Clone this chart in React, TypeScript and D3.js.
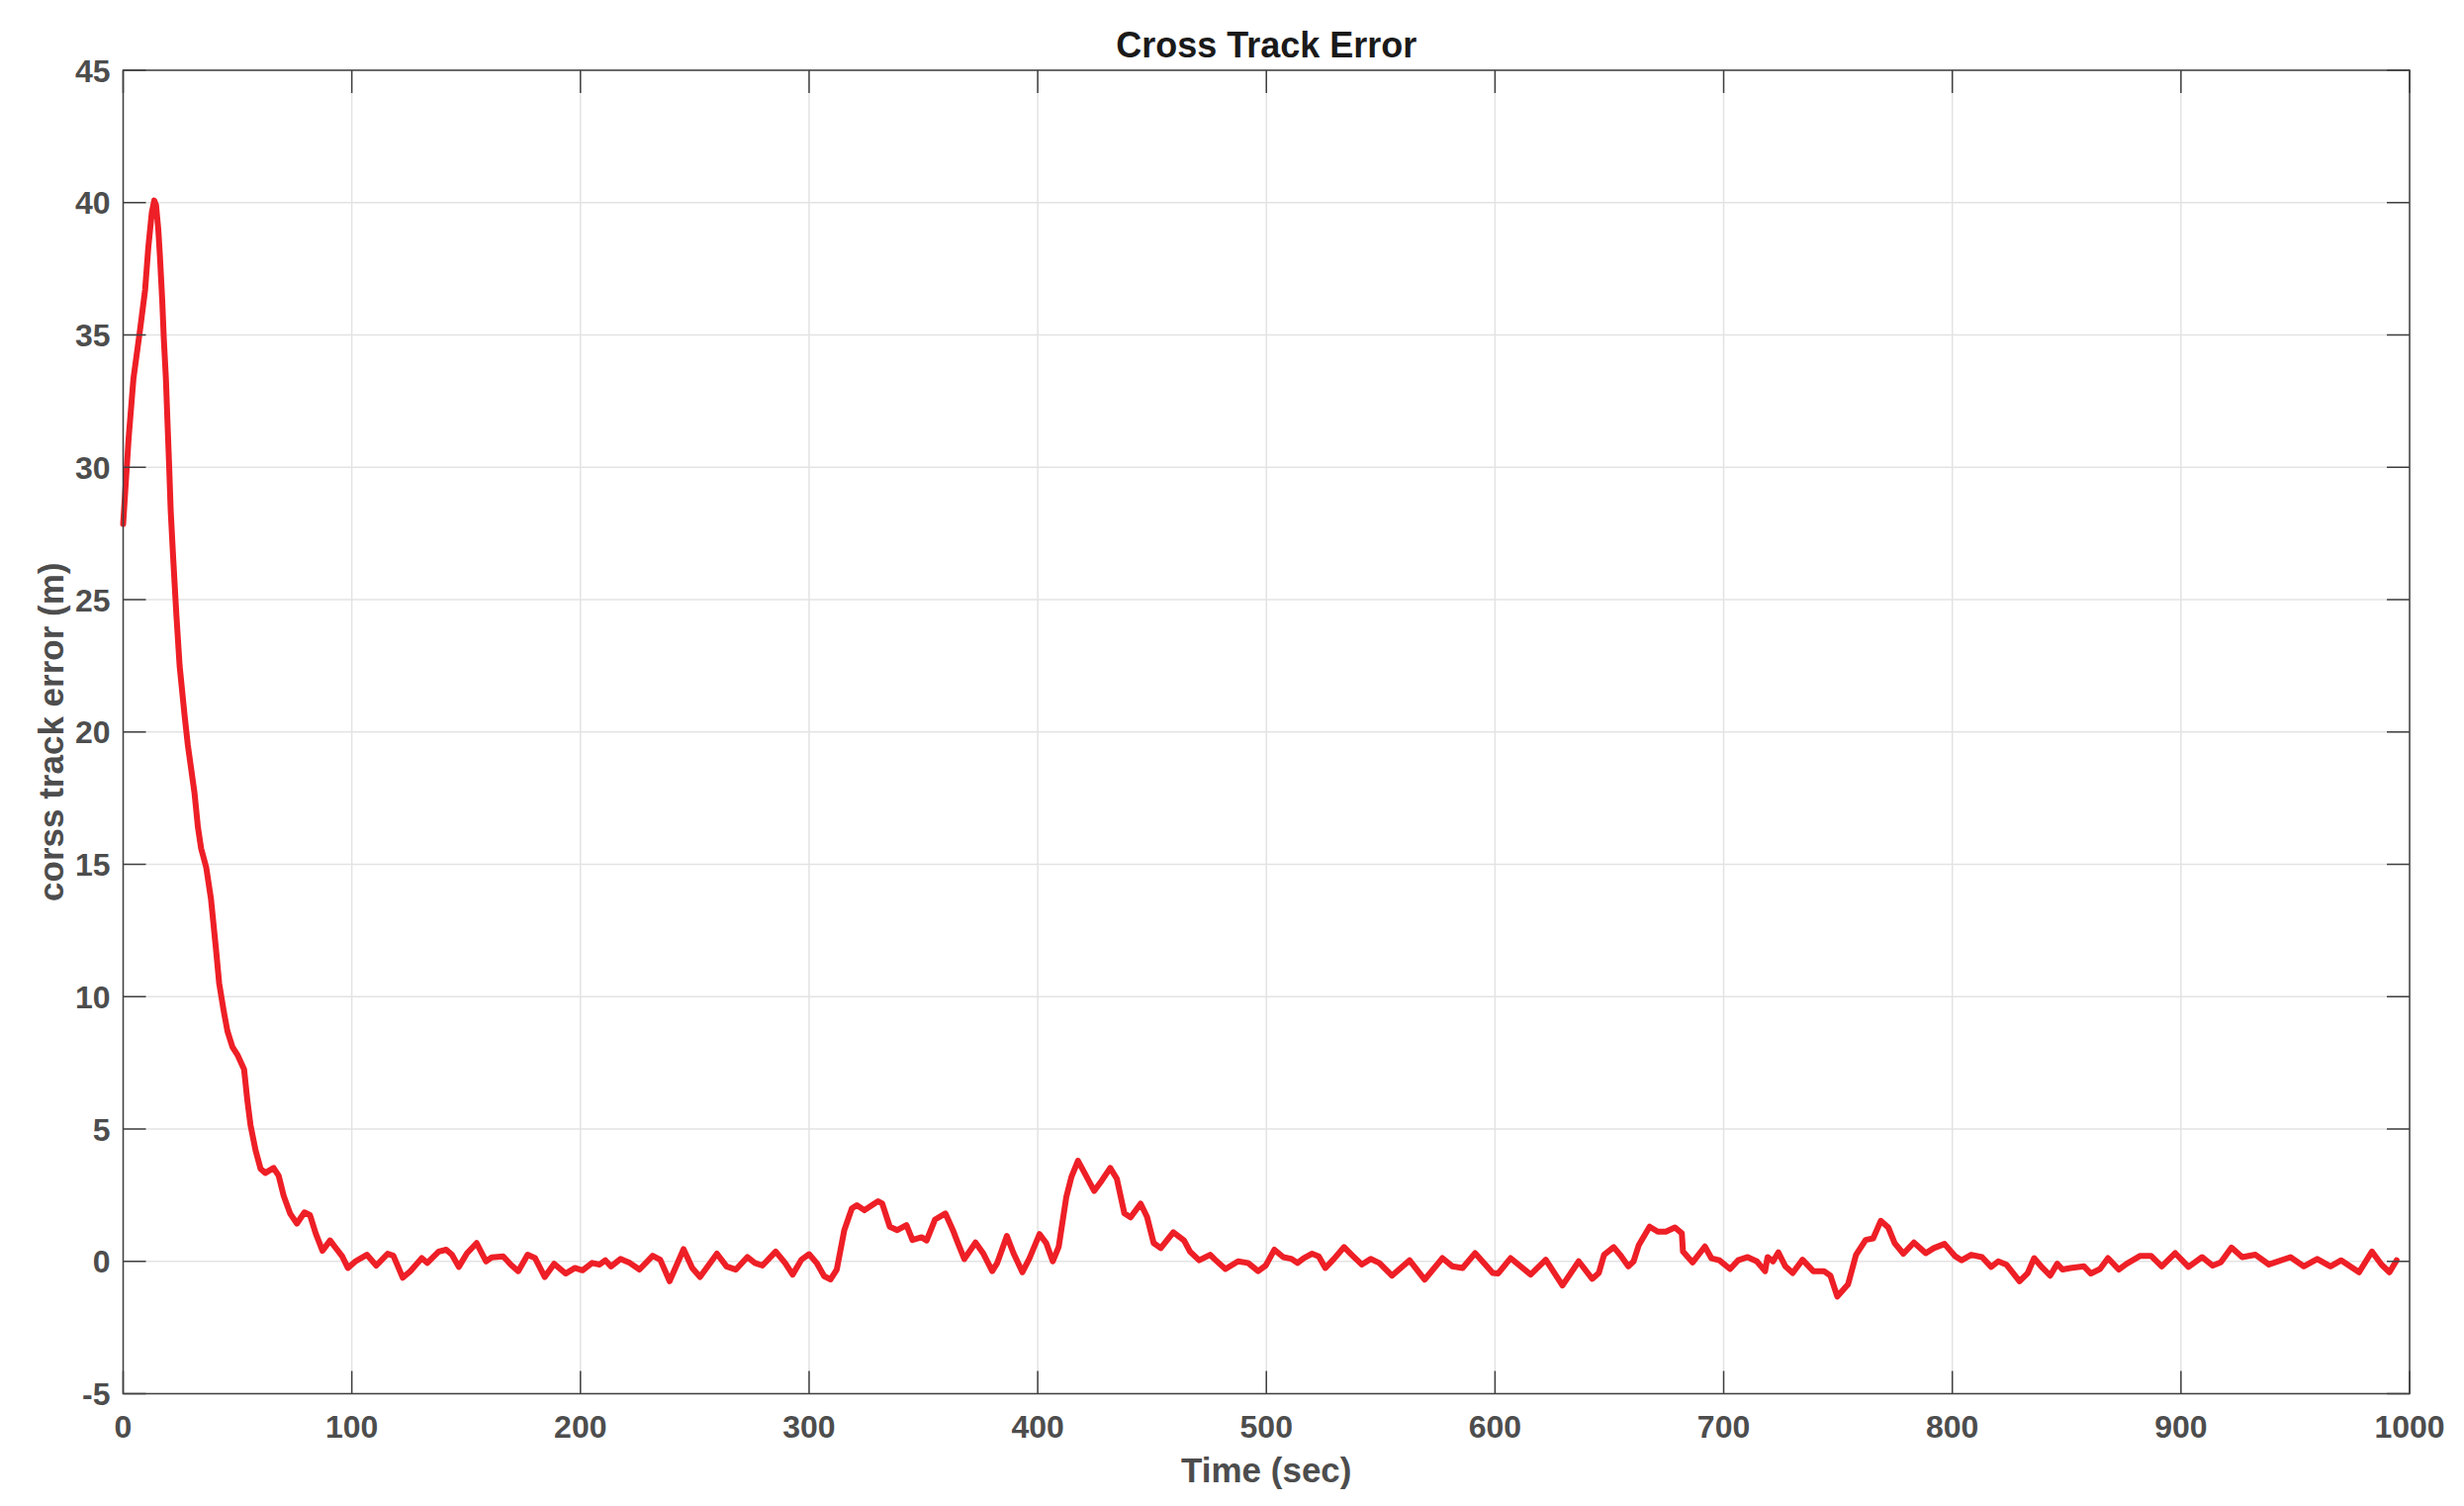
import React from "react";
import * as d3 from "d3";

const timeSec: number[] = [
  0, 2.4, 4.5, 7.4, 9.6, 11.0, 12.5, 13.6, 14.4, 15.4, 16.1, 17.1, 17.8, 18.7, 19.4, 20.1, 20.8, 21.8,
  23.3, 24.7, 26.9, 28.3, 31.2, 32.7, 34.1, 36.3, 38.4, 40.6, 42.0, 43.9, 45.6, 47.8, 50.0, 52.9,
  54.3, 55.7, 57.9, 60.1, 62.2, 65.8, 68.0, 70.2, 73.0, 76.0, 79.3, 81.7, 84.2, 87.2, 90.5, 92.5,
  95.8, 98.3, 101.6, 106.6, 110.7, 115.7, 118.2, 122.3, 125.6, 130.6, 133.0, 138.0, 141.3, 143.8,
  146.8, 150.4, 154.6, 158.7, 161.2, 166.2, 169.5, 172.8, 176.9, 180.2, 184.4, 188.5, 193.5, 197.6,
  200.9, 205.1, 208.4, 210.9, 213.4, 217.5, 221.6, 225.8, 231.6, 234.9, 239.0, 245.1, 248.9, 252.3,
  259.7, 263.9, 268.0, 273.0, 276.3, 279.6, 285.4, 289.5, 292.8, 296.6, 300, 303.3, 306.6, 309.4,
  312.1, 315.4, 318.7, 320.9, 324.2, 327.5, 330.2, 332.0, 335.3, 338.6, 342.6, 345.2, 349.2, 351.4,
  355.1, 359.6, 362.9, 365.1, 367.9, 372.8, 376.1, 380.1, 382.3, 386.5, 389.4, 393.3, 396.4, 400.8,
  403.7, 406.6, 409.2, 412.5, 414.7, 417.6, 420.3, 424.7, 428.0, 431.7, 434.6, 437.9, 440.6, 445.0,
  447.8, 450.7, 453.8, 459.3, 464.0, 466.6, 470.6, 475.4, 477.6, 482.1, 487.6, 492.0, 496.4, 499.7,
  503.5, 507.4, 510.8, 513.6, 516.3, 520.0, 522.9, 525.8, 529.5, 534.0, 537.3, 541.7, 545.6, 549.4,
  554.9, 562.6, 569.2, 577.0, 581.4, 585.8, 591.3, 599.0, 601.3, 606.8, 615.6, 622.2, 629.5, 636.6,
  642.5, 645.4, 647.7, 651.9, 654.7, 658.3, 660.6, 662.9, 667.6, 671.2, 674.7, 678.7, 681.7, 682.2,
  686.4, 691.8, 694.6, 698.1, 702.8, 706.3, 710.5, 714.5, 718.1, 719.2, 721.6, 723.9, 727.0, 730.2,
  734.5, 739.2, 743.9, 746.7, 749.7, 754.4, 757.9, 762.1, 765.4, 768.7, 772.0, 774.8, 778.6, 783.2,
  788.4, 791.9, 796.6, 801.3, 804.1, 808.3, 813.0, 817.0, 820.1, 823.6, 829.4, 833.0, 835.8, 839.5,
  842.8, 845.9, 848.2, 851.7, 857.6, 860.6, 864.6, 868.1, 872.8, 876.3, 882.2, 886.9, 891.6, 897.5,
  903.3, 909.2, 913.9, 917.4, 922.1, 926.8, 932.6, 938.5, 947.9, 953.7, 959.6, 965.4, 970.1, 977.9,
  983.5, 987.7, 991.2, 994.3,
];

const crossTrackError: number[] = [
  27.86, 31.1, 33.35, 35.2, 36.7, 38.3, 39.6, 40.08, 39.9, 38.96, 37.96, 36.3, 34.84, 33.35, 31.7, 30.1, 28.36, 26.7,
  24.4, 22.5, 20.6, 19.5, 17.7, 16.4, 15.6, 14.9, 13.7, 11.8, 10.5, 9.5, 8.7, 8.1, 7.8, 7.25,
  6.1, 5.15, 4.2, 3.5, 3.34, 3.53, 3.24, 2.48, 1.81, 1.43, 1.85, 1.75, 1.06, 0.4, 0.79, 0.56,
  0.19, -0.25, 0, 0.25, -0.16, 0.29, 0.21, -0.62, -0.37, 0.12, -0.06, 0.37, 0.44, 0.25,
  -0.21, 0.31, 0.69, 0, 0.15, 0.19, -0.12, -0.37, 0.25, 0.12, -0.59, -0.09, -0.46, -0.25,
  -0.34, -0.06, -0.12, 0.04, -0.19, 0.09, -0.06, -0.31, 0.21, 0.06, -0.75, 0.46, -0.25, -0.59,
  0.29, -0.19, -0.31, 0.16, -0.06, -0.16, 0.37, -0.06, -0.5, 0.06, 0.27, -0.06, -0.56, -0.68,
  -0.31, 1.18, 2.0, 2.12, 1.93, 2.12, 2.27, 2.18, 1.31, 1.18, 1.37, 0.81, 0.91, 0.79,
  1.58, 1.81, 1.18, 0.69, 0.09, 0.71, 0.31, -0.37, -0.06, 0.96, 0.31, -0.41, 0.12, 1.03,
  0.69, 0, 0.56, 2.43, 3.18, 3.8, 3.37, 2.66, 3.05, 3.53, 3.12, 1.81, 1.66, 2.18,
  1.68, 0.69, 0.5, 1.1, 0.79, 0.37, 0.04, 0.25, 0.06, -0.29, 0, -0.06, -0.37, -0.16,
  0.44, 0.16, 0.1, -0.06, 0.12, 0.29, 0.19, -0.25, 0.09, 0.54, 0.25, -0.12, 0.09, -0.06,
  -0.54, 0.04, -0.69, 0.12, -0.19, -0.25, 0.31, -0.44, -0.46, 0.12, -0.5, 0.06, -0.91, 0.0,
  -0.66, -0.44, 0.25, 0.54, 0.25, -0.19, 0, 0.62, 1.31, 1.12, 1.12, 1.28, 1.06, 0.37,
  -0.04, 0.56, 0.12, 0.04, -0.29, 0.04, 0.16, 0, -0.37, 0.16, 0, 0.34, -0.19, -0.44,
  0.06, -0.37, -0.37, -0.54, -1.33, -0.87, 0.25, 0.81, 0.87, 1.53, 1.28, 0.69, 0.29, 0.71,
  0.31, 0.5, 0.66, 0.19, 0.04, 0.25, 0.16, -0.21, 0, -0.12, -0.75, -0.44, 0.12, -0.25,
  -0.54, -0.09, -0.31, -0.25, -0.19, -0.46, -0.29, 0.12, -0.31, -0.09, 0.21, 0.21, -0.19, 0.31,
  -0.21, 0.16, -0.16, -0.04, 0.52, 0.16, 0.25, -0.12, 0.16, -0.19, 0.09, -0.19, 0.04, -0.41,
  0.37, -0.12, -0.41, 0.04,
];

const xTicks: number[] = [0, 100, 200, 300, 400, 500, 600, 700, 800, 900, 1000];
const yTicks: number[] = [-5, 0, 5, 10, 15, 20, 25, 30, 35, 40, 45];

const titleText = "Cross Track Error";
const xLabelText = "Time (sec)";
const yLabelText = "corss track error (m)";

export default function App() {
  const W = 2491;
  const H = 1522;
  const left = 124.5;
  const right = 2436;
  const top = 71;
  const bottom = 1408.5;

  const x = d3.scaleLinear().domain([0, 1000]).range([left, right]);
  const y = d3.scaleLinear().domain([-5, 45]).range([bottom, top]);

  const pts: [number, number][] = timeSec.map((t, i) => [t, crossTrackError[i]]);
  const line = d3
    .line<[number, number]>()
    .x((d) => x(d[0]))
    .y((d) => y(d[1]));

  const font = "'Liberation Sans', Arial, Helvetica, sans-serif";
  const axisColor = "#404040";
  const textColor = "#4d4d4d";
  const gridColor = "#e3e3e3";
  const tickLen = 23;

  return (
    <div style={{ position: "absolute", left: 0, top: 0 }}>
      <svg width={W} height={H} style={{ display: "block", background: "#fff" }}>
        <rect x={0} y={0} width={W} height={H} fill="#fff" />
        {xTicks.map((t) => (
          <line key={"gx" + t} x1={x(t)} x2={x(t)} y1={top} y2={bottom} stroke={gridColor} strokeWidth={1.5} />
        ))}
        {yTicks.map((t) => (
          <line key={"gy" + t} x1={left} x2={right} y1={y(t)} y2={y(t)} stroke={gridColor} strokeWidth={1.5} />
        ))}
        <path
          d={line(pts) || ""}
          fill="none"
          stroke="#ee1f26"
          strokeWidth={6}
          strokeLinejoin="round"
          strokeLinecap="round"
        />
        {xTicks.map((t) => (
          <g key={"tx" + t}>
            <line x1={x(t)} x2={x(t)} y1={bottom} y2={bottom - tickLen} stroke={axisColor} strokeWidth={1.5} />
            <line x1={x(t)} x2={x(t)} y1={top} y2={top + tickLen} stroke={axisColor} strokeWidth={1.5} />
            <text
              x={x(t)}
              y={1452.5}
              textAnchor="middle"
              fontFamily={font}
              fontWeight="bold"
              fontSize={32}
              fill={textColor}
            >
              {t}
            </text>
          </g>
        ))}
        {yTicks.map((t) => (
          <g key={"ty" + t}>
            <line x1={left} x2={left + tickLen} y1={y(t)} y2={y(t)} stroke={axisColor} strokeWidth={1.5} />
            <line x1={right} x2={right - tickLen} y1={y(t)} y2={y(t)} stroke={axisColor} strokeWidth={1.5} />
            <text
              x={111.5}
              y={y(t) + 11.5}
              textAnchor="end"
              fontFamily={font}
              fontWeight="bold"
              fontSize={32}
              fill={textColor}
            >
              {t}
            </text>
          </g>
        ))}
        <rect x={left} y={top} width={right - left} height={bottom - top} fill="none" stroke={axisColor} strokeWidth={1.5} />
        <text x={(left + right) / 2} y={58} textAnchor="middle" fontFamily={font} fontWeight="bold" fontSize={36} fill="#1a1a1a">
          {titleText}
        </text>
        <text x={(left + right) / 2} y={1498} textAnchor="middle" fontFamily={font} fontWeight="bold" fontSize={35} fill={textColor}>
          {xLabelText}
        </text>
        <text
          transform={`translate(64, ${(top + bottom) / 2}) rotate(-90)`}
          textAnchor="middle"
          fontFamily={font}
          fontWeight="bold"
          fontSize={35}
          fill={textColor}
        >
          {yLabelText}
        </text>
      </svg>
    </div>
  );
}
